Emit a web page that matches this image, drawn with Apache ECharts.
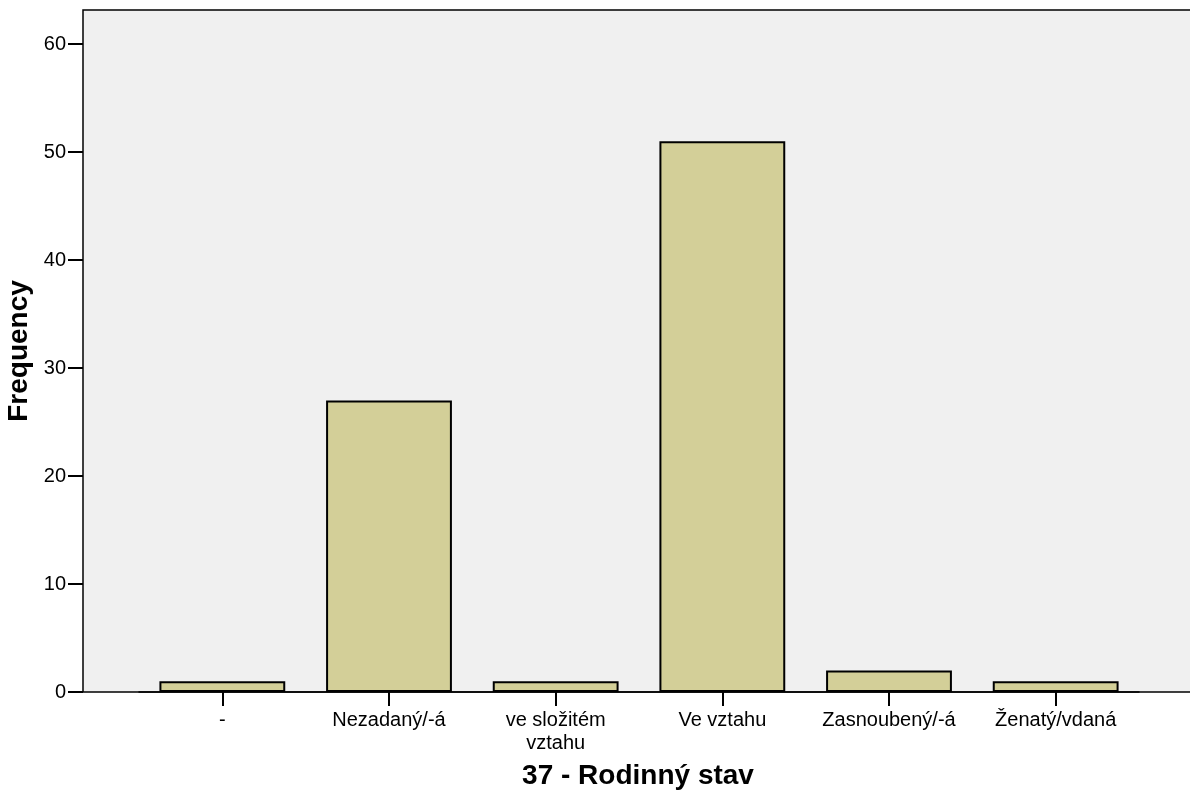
<!DOCTYPE html>
<html>
<head>
<meta charset="utf-8">
<script src="https://cdn.jsdelivr.net/npm/echarts@6/dist/echarts.min.js"></script>
<style>
html,body{margin:0;padding:0;background:#fff;}
#main{width:1190px;height:800px;}
</style>
</head>
<body>
<div id="main"></div>
<script>
const categories = ['-', 'Nezadaný/-á', 've složitém\nvztahu', 'Ve vztahu', 'Zasnoubený/-á', 'Ženatý/vdaná'];
const frequencies = [1, 27, 1, 51, 2, 1];
const yTicks = [0, 10, 20, 30, 40, 50, 60];
const yMax = 63.15;
const xTitle = '37 - Rodinný stav';
const yTitle = 'Frequency';

const FONT = '"Liberation Sans", Arial, sans-serif';
const chart = echarts.init(document.getElementById('main'), null, {renderer: 'canvas'});
chart.setOption({
  animation: false,
  backgroundColor: '#ffffff',
  grid: [
    {left: 83, right: -3, top: 10, bottom: 108, show: true, backgroundColor: '#f0f0f0', borderColor: '#000', borderWidth: 1.5,
     containLabel: false, outerBoundsMode: 'none'},
    {left: 139, right: 51, top: 10, bottom: 108, show: false, containLabel: false, outerBoundsMode: 'none'}
  ],
  xAxis: [
    {gridIndex: 0, type: 'value', min: 0, max: 1, axisLine: {show: false}, axisTick: {show: false}, axisLabel: {show: false}, splitLine: {show: false},
     name: xTitle, nameLocation: 'middle', nameGap: 70,
     nameTextStyle: {fontFamily: FONT, fontSize: 28, fontWeight: 'bold', color: '#000'}},
    {gridIndex: 1, type: 'category', data: categories, boundaryGap: true,
     axisLine: {show: true, lineStyle: {color: '#000', width: 1.5}},
     axisTick: {show: true, alignWithLabel: true, length: 14, lineStyle: {color: '#000', width: 2}},
     axisLabel: {margin: 17, fontFamily: FONT, fontSize: 20, color: '#000', lineHeight: 23, interval: 0}}
  ],
  yAxis: [
    {gridIndex: 0, type: 'value', min: 0, max: yMax, interval: 10,
     axisLine: {show: false},
     axisTick: {show: true, length: 15, customValues: yTicks, lineStyle: {color: '#000', width: 2}},
     axisLabel: {margin: 17, fontFamily: FONT, fontSize: 20, color: '#000',
       customValues: yTicks, formatter: v => String(v)},
     splitLine: {show: false},
     name: yTitle, nameLocation: 'middle', nameGap: 44, nameRotate: 90,
     nameTextStyle: {fontFamily: FONT, fontSize: 28, fontWeight: 'bold', color: '#000'}},
    {gridIndex: 1, type: 'value', min: 0, max: yMax, show: false, splitLine: {show: false}}
  ],
  series: [{
    type: 'bar', xAxisIndex: 1, yAxisIndex: 1, data: frequencies, barWidth: '75.5%',
    itemStyle: {color: '#d3cf98', borderColor: '#000', borderWidth: 2}
  }]
});
</script>
</body>
</html>
